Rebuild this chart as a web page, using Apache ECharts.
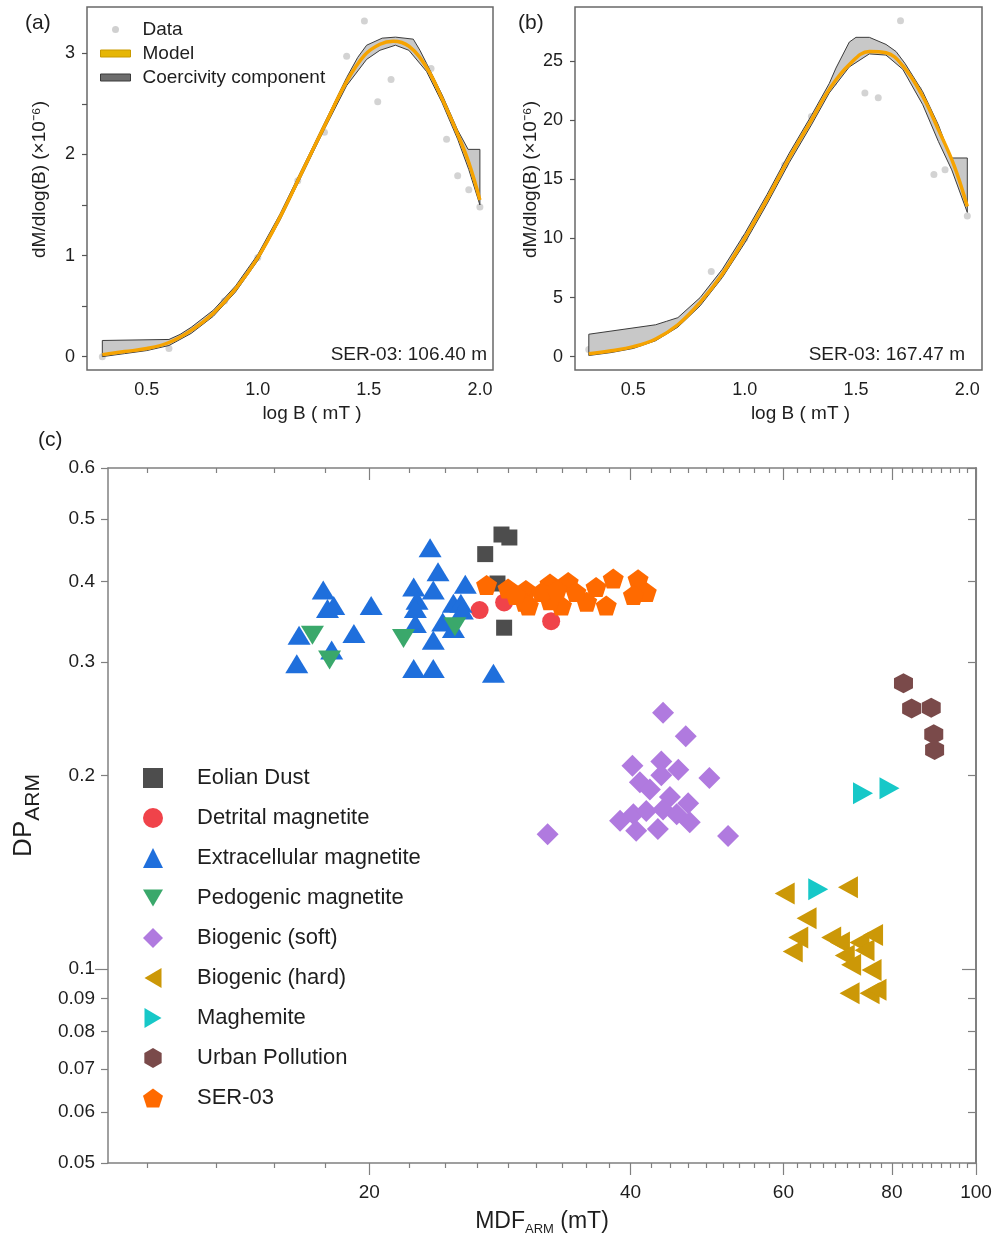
<!DOCTYPE html>
<html>
<head>
<meta charset="utf-8">
<title>Coercivity unmixing and DP_ARM vs MDF_ARM</title>
<script src="https://cdn.jsdelivr.net/npm/echarts@6/dist/echarts.min.js"></script>
<style>
  html, body { margin: 0; padding: 0; background: #ffffff; }
  #chart { width: 994px; height: 1234px; }
</style>
</head>
<body>
<div id="chart"></div>
<script>
// ---------- (a) SER-03 at 106.40 m : log B (mT) vs dM/dlog(B) ----------
const dataA = [[0.30,0.00],[0.60,0.08],[0.85,0.55],[1.00,0.98],[1.18,1.74],[1.30,2.22],[1.40,2.97],[1.48,3.32],[1.54,2.52],[1.60,2.74],[1.65,3.10],[1.70,3.05],[1.78,2.85],[1.85,2.15],[1.90,1.79],[1.95,1.65],[2.00,1.48]];
const modelA = [[0.30,0.02],[0.40,0.05],[0.50,0.08],[0.60,0.14],[0.70,0.26],[0.80,0.43],[0.90,0.67],[1.00,0.98],[1.10,1.38],[1.20,1.83],[1.30,2.28],[1.40,2.72],[1.48,2.98],[1.55,3.09],[1.61,3.12],[1.68,3.07],[1.76,2.86],[1.83,2.55],[1.90,2.20],[1.95,1.92],[2.00,1.55]];
const bandUpperA = [[0.30,0.16],[0.60,0.17],[0.65,0.22],[0.70,0.29],[0.80,0.46],[0.90,0.70],[1.00,1.01],[1.10,1.41],[1.20,1.86],[1.30,2.31],[1.40,2.76],[1.45,2.96],[1.49,3.08],[1.56,3.15],[1.62,3.16],[1.70,3.14],[1.73,3.03],[1.76,2.90],[1.83,2.59],[1.90,2.24],[1.947,2.05],[2.00,2.05]];
const bandLowerA = [[0.30,0.00],[0.40,0.03],[0.50,0.06],[0.60,0.11],[0.70,0.23],[0.80,0.40],[0.90,0.64],[1.00,0.95],[1.10,1.35],[1.20,1.80],[1.30,2.25],[1.40,2.68],[1.49,2.94],[1.55,3.03],[1.62,3.08],[1.68,3.03],[1.76,2.82],[1.83,2.51],[1.90,2.15],[1.95,1.85],[2.00,1.50]];

// ---------- (b) SER-03 at 167.47 m ----------
const dataB = [[0.30,0.6],[0.60,1.7],[0.85,7.2],[1.00,10.0],[1.18,16.2],[1.30,20.3],[1.40,23.2],[1.48,25.0],[1.54,22.3],[1.60,21.9],[1.65,25.6],[1.70,28.4],[1.78,22.6],[1.85,15.4],[1.90,15.8],[1.95,15.9],[2.00,11.9]];
const modelB = [[0.30,0.25],[0.40,0.5],[0.50,0.85],[0.60,1.5],[0.70,2.7],[0.80,4.6],[0.90,7.0],[1.00,10.0],[1.10,13.3],[1.20,16.8],[1.30,20.0],[1.38,22.6],[1.47,24.7],[1.56,25.8],[1.635,25.7],[1.71,24.6],[1.80,22.0],[1.87,19.2],[1.94,16.2],[2.00,12.7]];
const bandUpperB = [[0.30,1.9],[0.60,2.7],[0.65,3.0],[0.70,3.3],[0.80,5.0],[0.90,7.4],[1.00,10.4],[1.10,13.7],[1.20,17.2],[1.30,20.4],[1.38,23.1],[1.41,24.4],[1.47,26.6],[1.50,27.0],[1.56,27.0],[1.635,26.4],[1.68,25.8],[1.72,24.8],[1.80,22.4],[1.87,19.6],[1.926,16.8],[2.00,16.8]];
const bandLowerB = [[0.30,0.1],[0.40,0.35],[0.50,0.7],[0.60,1.35],[0.70,2.5],[0.80,4.3],[0.90,6.7],[1.00,9.6],[1.10,12.9],[1.20,16.4],[1.30,19.6],[1.38,22.3],[1.47,24.5],[1.56,25.6],[1.635,25.5],[1.71,24.3],[1.80,21.3],[1.87,18.2],[1.93,15.8],[2.00,12.2]];

// ---------- (c) MDF_ARM (mT) vs DP_ARM ----------
const eolianDust = [[28.4,0.473],[29.0,0.468],[27.2,0.441],[28.1,0.397],[28.6,0.339]];
const detritalMagnetite = [[26.8,0.361],[28.6,0.371],[32.4,0.347]];
const extracellularMagnetite = [[23.5,0.451],[24.0,0.414],[17.7,0.388],[22.5,0.392],[23.7,0.388],[25.8,0.396],[17.9,0.363],[18.2,0.367],[20.1,0.367],[22.7,0.374],[22.6,0.363],[25.0,0.370],[25.5,0.370],[25.6,0.361],[22.6,0.344],[24.3,0.346],[25.0,0.338],[16.6,0.330],[19.2,0.332],[23.7,0.324],[18.1,0.313],[16.5,0.298],[22.5,0.293],[23.7,0.293],[27.8,0.288]];
const pedogenicMagnetite = [[17.2,0.330],[18.0,0.302],[21.9,0.326],[25.1,0.340]];
const biogenicSoft = [[43.6,0.250],[46.3,0.230],[40.2,0.207],[43.4,0.210],[45.4,0.204],[49.3,0.198],[43.4,0.200],[41.0,0.195],[42.1,0.190],[44.4,0.185],[46.6,0.181],[38.9,0.170],[40.3,0.174],[41.7,0.176],[43.6,0.177],[45.2,0.174],[46.8,0.169],[40.6,0.164],[43.0,0.165],[32.1,0.162],[51.8,0.161]];
const biogenicHard = [[60.2,0.131],[71.2,0.134],[63.8,0.120],[62.4,0.112],[61.5,0.1065],[68.1,0.112],[69.7,0.110],[70.6,0.105],[73.4,0.110],[76.1,0.113],[74.4,0.107],[71.8,0.1016],[75.8,0.0997],[71.5,0.0917],[75.4,0.0917],[76.8,0.0929]];
const maghemite = [[74.1,0.1875],[79.5,0.191],[65.8,0.133]];
const urbanPollution = [[82.5,0.278],[84.3,0.254],[88.8,0.2545],[89.4,0.2315],[89.6,0.219]];
const ser03 = [[27.3,0.395],[28.9,0.390],[30.3,0.388],[30.2,0.372],[32.3,0.397],[33.9,0.399],[36.5,0.392],[38.2,0.404],[40.8,0.403],[41.7,0.385],[40.3,0.381],[37.5,0.367],[35.6,0.372],[33.3,0.367],[32.3,0.374],[30.5,0.367],[29.5,0.381],[31.6,0.385],[34.6,0.385],[32.9,0.388]];

// tick values and labels
const xTicksAB = [0.5, 1.0, 1.5, 2.0];
const yLabelsA = [0, 1, 2, 3];
const yTicksA = [0, 0.5, 1, 1.5, 2, 2.5, 3];
const yLabelsB = [0, 5, 10, 15, 20, 25];
const xMajorC = [20, 40, 60, 80, 100];
const yTicksC = [0.05, 0.06, 0.07, 0.08, 0.09, 0.1, 0.2, 0.3, 0.4, 0.5, 0.6];
const yMajorC = [0.1];

// minor ticks on the MDF axis: each 20 mT step split into nine
const xMinorC = [];
for (let k = -4; k <= 36; k++) {
  if (k % 9 !== 0) xMinorC.push(+(20 + k * 20 / 9).toFixed(4));
}
const yMinorC = yTicksC.filter(v => yMajorC.indexOf(v) < 0);

const FONT = 'Liberation Sans, Arial, Helvetica, sans-serif';
const TXT = '#1e1e1e';

// marker shapes
const SYM = {
  down: 'path://M-1,-0.8L1,-0.8L0,0.9Z',
  left: 'path://M-0.9,0L0.8,-1L0.8,1Z',
  right: 'path://M0.9,0L-0.8,-1L-0.8,1Z',
  pentagon: 'path://M0,-1L0.951,-0.309L0.588,0.809L-0.588,0.809L-0.951,-0.309Z',
  hexagon: 'path://M0,-1L0.866,-0.5L0.866,0.5L0,1L-0.866,0.5L-0.866,-0.5Z'
};

// shaded envelope of the coercivity component
function bandSeries(upper, lower, gi) {
  return {
    type: 'custom',
    name: 'Coercivity component',
    xAxisIndex: gi, yAxisIndex: gi,
    data: [[1, 1]],
    silent: true,
    z: 2,
    itemStyle: { color: '#6d6d6d' },
    renderItem: function (params, api) {
      const pts = upper.concat(lower.slice().reverse()).map(p => api.coord(p));
      return {
        type: 'polygon',
        shape: { points: pts },
        style: { fill: '#c8c8c8', stroke: '#3c3c3c', lineWidth: 1, lineJoin: 'round' }
      };
    }
  };
}

function curveSeries(model, gi) {
  return {
    type: 'line', name: 'Model', xAxisIndex: gi, yAxisIndex: gi,
    data: model, smooth: 0.4, symbol: 'none', showSymbol: false,
    lineStyle: { color: '#f6a300', width: 3.5 }, z: 4, silent: true
  };
}

function dotSeries(pts, gi) {
  return {
    type: 'scatter', name: 'Data', xAxisIndex: gi, yAxisIndex: gi,
    data: pts, symbol: 'circle', symbolSize: 7,
    itemStyle: { color: '#c8c8c8' }, z: 1, silent: true
  };
}

function groupSeries(name, pts, color, symbol, size, z) {
  return {
    type: 'scatter', name: name, xAxisIndex: 2, yAxisIndex: 2,
    data: pts, symbol: symbol, symbolSize: size,
    itemStyle: { color: color, opacity: 1 }, z: z, silent: true
  };
}

function panelXAxis(gi, min, max) {
  return {
    gridIndex: gi, type: 'value', min: min, max: max,
    axisLine: { show: false }, axisTick: { show: false }, splitLine: { show: false },
    axisLabel: { customValues: xTicksAB, formatter: v => v.toFixed(1), fontSize: 18, color: TXT, fontFamily: FONT, margin: 11 },
    name: 'log B ( mT )', nameLocation: 'middle', nameGap: 34, nameMoveOverlap: false,
    nameTextStyle: { fontSize: 19, color: TXT, fontFamily: FONT, padding: [0, 0, 0, 44] }
  };
}

function panelYAxis(gi, min, max, labels, ticks, gap) {
  return {
    gridIndex: gi, type: 'value', min: min, max: max,
    axisLine: { show: false }, splitLine: { show: false },
    axisTick: { show: true, customValues: ticks, length: 5, lineStyle: { color: '#555', width: 1.2 } },
    axisLabel: { customValues: labels, fontSize: 18, color: TXT, fontFamily: FONT, margin: 12 },
    name: 'dM/dlog(B) (×10⁻⁶)', nameLocation: 'middle', nameGap: gap, nameMoveOverlap: false,
    nameTextStyle: { fontSize: 19, color: TXT, fontFamily: FONT, padding: [0, 0, 0, 18] }
  };
}

const axisGray = '#808080';

function logX(position, ticks, len, withLine, withLabel) {
  return {
    gridIndex: 2, type: 'log', logBase: 10, min: 10, max: 100, position: position,
    axisLine: { show: withLine, onZero: false, lineStyle: { color: axisGray, width: 1.5 } },
    axisTick: { show: true, customValues: ticks, inside: position === 'top', length: len, lineStyle: { color: axisGray, width: 1.2 } },
    axisLabel: withLabel
      ? { customValues: xMajorC, formatter: v => String(Math.round(v)), fontSize: 19, color: TXT, fontFamily: FONT, margin: 20 }
      : { show: false },
    splitLine: { show: false }, minorTick: { show: false },
    name: withLabel ? '{a|MDF}{b|ARM}{a| (mT)}' : '',
    nameLocation: 'middle', nameGap: 47, nameMoveOverlap: false,
    nameTextStyle: {
      color: TXT, fontFamily: FONT,
      rich: {
        a: { fontSize: 23, color: TXT, fontFamily: FONT, verticalAlign: 'top' },
        b: { fontSize: 13, color: TXT, fontFamily: FONT, verticalAlign: 'bottom', padding: [13, 0, 0, 0] }
      }
    }
  };
}

function logY(position, ticks, len, withLine, withLabel) {
  return {
    gridIndex: 2, type: 'log', logBase: 10, min: 0.05, max: 0.6, position: position,
    axisLine: { show: withLine, onZero: false, lineStyle: { color: axisGray, width: position === 'right' ? 2 : 1.5 } },
    axisTick: { show: true, customValues: ticks, inside: position === 'right', length: len, lineStyle: { color: axisGray, width: 1.2 } },
    axisLabel: withLabel
      ? { customValues: yTicksC, formatter: v => String(+(+v).toFixed(2)), fontSize: 19, color: TXT, fontFamily: FONT, margin: 13 }
      : { show: false },
    splitLine: { show: false }, minorTick: { show: false },
    name: withLabel ? '{a|DP}{b|ARM}' : '',
    nameLocation: 'middle', nameGap: 64, nameMoveOverlap: false,
    nameTextStyle: {
      color: TXT, fontFamily: FONT,
      rich: {
        a: { fontSize: 26, color: TXT, fontFamily: FONT, verticalAlign: 'top' },
        b: { fontSize: 21, color: TXT, fontFamily: FONT, verticalAlign: 'bottom', padding: [12, 0, 0, 0] }
      }
    }
  };
}

const chart = echarts.init(document.getElementById('chart'), null, { renderer: 'canvas' });

chart.setOption({
  animation: false,
  backgroundColor: '#ffffff',
  textStyle: { fontFamily: FONT },
  title: [
    { text: '(a)', left: 25, top: 13, padding: 0, textStyle: { fontSize: 21, fontWeight: 'normal', color: TXT, fontFamily: FONT } },
    { text: '(b)', left: 518, top: 13, padding: 0, textStyle: { fontSize: 21, fontWeight: 'normal', color: TXT, fontFamily: FONT } },
    { text: '(c)', left: 38, top: 430, padding: 0, textStyle: { fontSize: 21, fontWeight: 'normal', color: TXT, fontFamily: FONT } },
    { text: 'SER-03: 106.40 m', right: 507, top: 345, padding: 0, textStyle: { fontSize: 19, fontWeight: 'normal', color: TXT, fontFamily: FONT } },
    { text: 'SER-03: 167.47 m', right: 29, top: 345, padding: 0, textStyle: { fontSize: 19, fontWeight: 'normal', color: TXT, fontFamily: FONT } }
  ],
  legend: [
    {
      orient: 'vertical', left: 100, top: 20, padding: 0,
      itemWidth: 30, itemHeight: 7, itemGap: 5,
      selectedMode: false,
      textStyle: { fontSize: 19, color: TXT, fontFamily: FONT, padding: [0, 0, 0, 7] },
      data: [
        { name: 'Data', icon: 'circle', itemStyle: { color: '#c4c4c4', borderWidth: 0 } },
        { name: 'Model', icon: 'rect', itemStyle: { color: '#e6b605', borderColor: '#c99a00', borderWidth: 1 } },
        { name: 'Coercivity component', icon: 'rect', itemStyle: { color: '#6d6d6d', borderColor: '#3a3a3a', borderWidth: 1 } }
      ]
    },
    {
      orient: 'vertical', left: 143, top: 767, padding: 0,
      itemWidth: 20, itemHeight: 20, itemGap: 18,
      selectedMode: false,
      textStyle: { fontSize: 22, color: TXT, fontFamily: FONT, padding: [0, 0, 0, 29] },
      data: ['Eolian Dust', 'Detrital magnetite', 'Extracellular magnetite', 'Pedogenic magnetite',
             'Biogenic (soft)', 'Biogenic (hard)', 'Maghemite', 'Urban Pollution', 'SER-03']
    }
  ],
  grid: [
    { left: 87, top: 7, width: 406, height: 363, show: true, borderColor: '#686868', borderWidth: 1.5, backgroundColor: 'transparent', outerBoundsMode: 'none', containLabel: false },
    { left: 575, top: 7, width: 407, height: 363, show: true, borderColor: '#686868', borderWidth: 1.5, backgroundColor: 'transparent', outerBoundsMode: 'none', containLabel: false },
    { left: 108, top: 468, width: 868, height: 695, show: false, outerBoundsMode: 'none', containLabel: false }
  ],
  xAxis: [
    panelXAxis(0, 0.231, 2.059),
    panelXAxis(1, 0.238, 2.066),
    logX('bottom', xMajorC, 12, true, true),
    logX('bottom', xMinorC, 5, false, false),
    logX('top', xMajorC, 12, true, false),
    logX('top', xMinorC, 5, false, false)
  ],
  yAxis: [
    panelYAxis(0, -0.132, 3.458, yLabelsA, yTicksA, 38),
    panelYAxis(1, -1.124, 29.565, yLabelsB, yLabelsB, 35),
    logY('left', yMinorC, 7, true, true),
    logY('left', yMajorC, 13, false, false),
    logY('right', yMinorC, 8, true, false),
    logY('right', yMajorC, 14, false, false)
  ],
  series: [
    dotSeries(dataA, 0),
    bandSeries(bandUpperA, bandLowerA, 0),
    curveSeries(modelA, 0),
    dotSeries(dataB, 1),
    bandSeries(bandUpperB, bandLowerB, 1),
    curveSeries(modelB, 1),
    groupSeries('Eolian Dust', eolianDust, '#4d4d4d', 'rect', 16, 3),
    groupSeries('Detrital magnetite', detritalMagnetite, '#f0434a', 'circle', 18, 4),
    groupSeries('Extracellular magnetite', extracellularMagnetite, '#1f6fdc', 'triangle', [23, 19], 5),
    groupSeries('Pedogenic magnetite', pedogenicMagnetite, '#3aa86b', SYM.down, [23, 19], 6),
    groupSeries('Biogenic (soft)', biogenicSoft, '#b07adf', 'diamond', [22, 22], 7),
    groupSeries('Biogenic (hard)', biogenicHard, '#cc9807', SYM.left, [20, 22], 8),
    groupSeries('Maghemite', maghemite, '#17c8c8', SYM.right, [20, 22], 9),
    groupSeries('Urban Pollution', urbanPollution, '#7a4a4a', SYM.hexagon, [19, 20], 10),
    groupSeries('SER-03', ser03, '#ff6a00', SYM.pentagon, [21, 20], 11)
  ]
});
</script>
</body>
</html>
